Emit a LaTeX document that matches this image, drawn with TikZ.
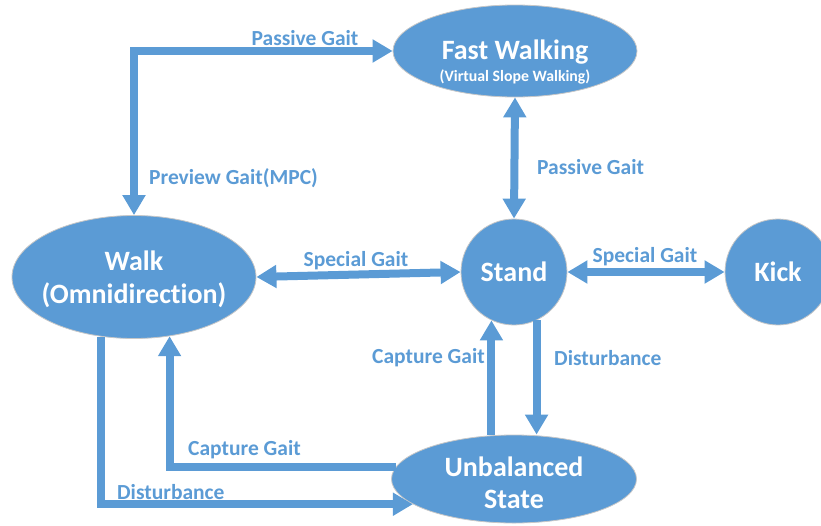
\documentclass[tikz,border=0pt]{standalone}
\usepackage{fontspec}
\setmainfont{Carlito}[Ligatures=NoCommon]
\usetikzlibrary{shapes.geometric,arrows.meta}
\definecolor{stateblue}{RGB}{91,155,213}

\begin{document}
\begin{tikzpicture}[x=1pt,y=-1pt,>={Triangle[width=22pt,length=20pt]},
	flow/.style={draw=stateblue,line width=8pt},
	state/.style={fill=stateblue,draw=black!22,line width=0.8pt,inner sep=0pt},
	statetext/.style={text=white,font=\bfseries\fontsize{28}{33}\selectfont,align=center,inner sep=0pt},
	edgetext/.style={text=stateblue,font=\bfseries\fontsize{21.5}{24}\selectfont,inner sep=0pt}]
	\useasboundingbox (0,0) rectangle (821,525);
	\node[state,ellipse,minimum width=244pt,minimum height=123pt] (walk) at (134,277) {};
	\node[state,ellipse,minimum width=244pt,minimum height=92pt] (fast) at (515,51) {};
	\node[state,circle,minimum size=106pt] (stand) at (514,272) {};
	\node[state,circle,minimum size=106pt] (kick) at (778,272) {};
	\node[state,ellipse,minimum width=245pt,minimum height=88pt] (unb) at (514,479) {};
	\node[statetext] (walktext) at (134,279) {Walk\\(Omnidirection)};
	\node[statetext] (fasttext) at (515,52) {Fast Walking};
	\node[statetext,font=\bfseries\fontsize{15.8}{18}\selectfont] (fastsub) at (515,77) {(Virtual Slope Walking)};
	\node[statetext] (standtext) at (stand) {Stand};
	\node[statetext] (kicktext) at (kick) {Kick};
	\node[statetext,font=\bfseries\fontsize{28}{32}\selectfont] (unbtext) at (514,483) {Unbalanced\\State};
	\draw[flow,<->] (walk.north) |- (fast.west);
	\draw[flow,<->] (fast.south) -- (stand.north);
	\draw[flow,<->] (walk.east) -- (stand.west);
	\draw[flow,<->] (stand.east) -- (kick.west);
	\draw[flow,->] (stand.245 |- unb.north) -- (stand.245);
	\draw[flow,->] (stand.295) -- (stand.295 |- unb.north);
	\draw[flow,->] (unb.174) -| (walk.-59);
	\draw[flow,->] (walk.241) |- (unb.194);
	\node[edgetext] (lpassive) at (305,38) {Passive Gait};
	\node[edgetext,anchor=west] (lpreview) at (149,178) {Preview Gait(MPC)};
	\node[edgetext,anchor=west] (lpassive2) at (537,167) {Passive Gait};
	\node[edgetext] (lspecial) at (356,261) {Special Gait};
	\node[edgetext] (lspecial2) at (645,257) {Special Gait};
	\node[edgetext,anchor=east] (lcapture) at (485,358) {Capture Gait};
	\node[edgetext,anchor=west] (ldisturb) at (554,358) {Disturbance};
	\node[edgetext,anchor=west] (lcapture2) at (188,450) {Capture Gait};
	\node[edgetext,anchor=west] (ldisturb2) at (117,492) {Disturbance};
\end{tikzpicture}
\end{document}
